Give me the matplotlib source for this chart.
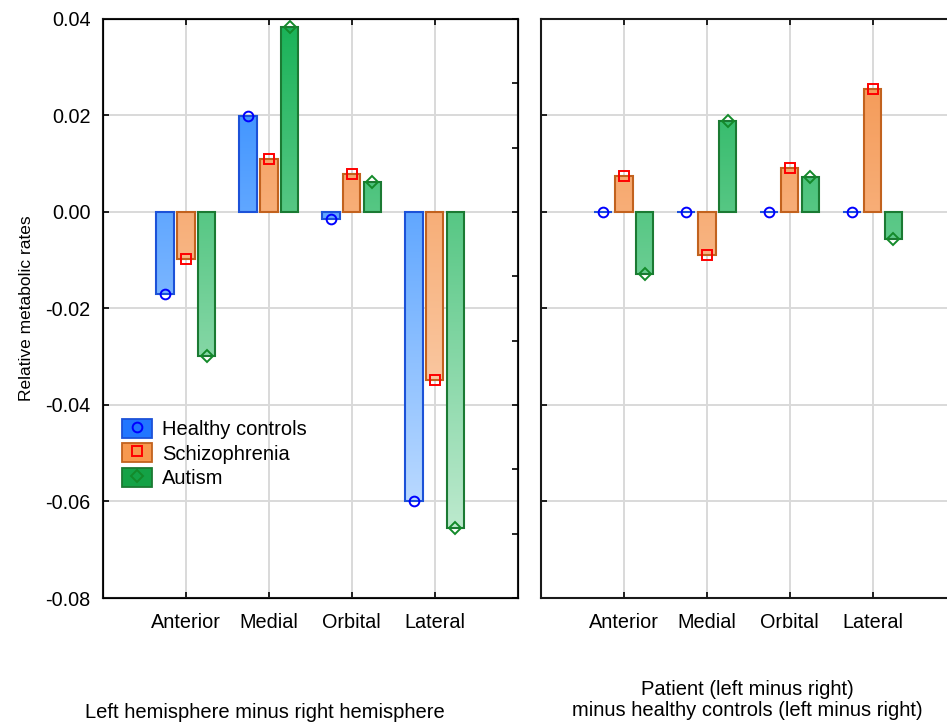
import numpy as np
import matplotlib.pyplot as plt
from matplotlib.colors import LinearSegmentedColormap
from matplotlib.patches import Patch
from matplotlib.lines import Line2D

plt.rcParams['font.family'] = ['Liberation Sans', 'DejaVu Sans']

regions = ['Anterior', 'Medial', 'Orbital', 'Lateral']
groups = ['Healthy controls', 'Schizophrenia', 'Autism']

# left minus right hemisphere
lr_healthy = [-0.017, 0.020, -0.0015, -0.060]
lr_schizo = [-0.0098, 0.011, 0.0078, -0.0349]
lr_autism = [-0.0299, 0.0384, 0.0062, -0.0655]

# patient (L-R) minus healthy (L-R)
diff_healthy = [0.0, 0.0, 0.0, 0.0]
diff_schizo = [0.0075, -0.0089, 0.0092, 0.0254]
diff_autism = [-0.0129, 0.0188, 0.0073, -0.0056]

# (top colour, bottom colour, edge, legend face, marker, marker colour)
styles = [
    ('#2686ff', '#d6e9ff', '#1c52d8', '#2176ff', 'o', '#0000ff'),
    ('#f4924a', '#fee6d3', '#c2621e', '#f7994f', 's', '#ff0000'),
    ('#18b257', '#d3f1de', '#1b7a33', '#14a246', 'D', '#138a2a'),
]

YMIN, YMAX = -0.08, 0.04
W, H = 947, 727
fig = plt.figure(figsize=(W / 100, H / 100), dpi=100)
ax1 = fig.add_axes([103 / W, 1 - 598 / H, 414.5 / W, 579 / H])
ax2 = fig.add_axes([541 / W, 1 - 598 / H, 414.5 / W, 579 / H])

x = np.arange(1, len(regions) + 1)
offsets = [-0.25, 0.0, 0.25]
width = 0.21
grad = np.linspace(0, 1, 256).reshape(-1, 1)


def draw_panel(ax, series):
    for vals, off, st in zip(series, offsets, styles):
        top, bot, edge, _, mk, mc = st
        cmap = LinearSegmentedColormap.from_list('g', [bot, top])
        bars = ax.bar(x + off, vals, width, facecolor='none', edgecolor=edge,
                      linewidth=1.5, zorder=3)
        for b in bars:
            im = ax.imshow(grad, extent=[0, 5, YMIN, YMAX], origin='lower',
                           aspect='auto', cmap=cmap, zorder=2.5,
                           interpolation='bilinear')
            im.set_clip_path(b)
        ms = 6 if mk == 'D' else 7
        ax.plot(x + off, vals, ls='none', marker=mk, ms=ms, mfc='none',
                mec=mc, mew=1.4, zorder=4, clip_on=False)
    ax.set_xlim(0, 5)
    ax.set_ylim(YMIN, YMAX)
    ax.set_xticks(x)
    ax.set_xticklabels(regions)
    ax.set_yticks(np.arange(-0.08, 0.041, 0.02))
    ax.grid(True, color='#d9d9d9', linewidth=1.4, zorder=0)
    ax.set_axisbelow(True)
    ax.tick_params(direction='in', length=4, width=1.2, labelsize=14.3,
                   top=True, pad=9)
    ax.tick_params(axis='x', pad=11)
    for s in ax.spines.values():
        s.set_linewidth(1.5)
        s.set_color('#1a1a1a')


draw_panel(ax1, [lr_healthy, lr_schizo, lr_autism])
draw_panel(ax2, [diff_healthy, diff_schizo, diff_autism])

ax1.set_yticklabels([f'{v:.2f}' for v in np.arange(-0.08, 0.041, 0.02)])
ax1.set_ylabel('Relative metabolic rates', fontsize=12.5, labelpad=8)
ax2.tick_params(axis='y', labelleft=False)

# extra ticks on the right spine of the left panel
ax1r = ax1.twinx()
ax1r.set_ylim(YMIN, YMAX)
ax1r.set_yticks(np.linspace(YMIN, YMAX, 10))
ax1r.tick_params(direction='in', length=4, width=1.2, labelright=False)

handles = []
for st in styles:
    _, _, edge, face, mk, mc = st
    handles.append((Patch(facecolor=face, edgecolor=edge, linewidth=1.3),
                    Line2D([], [], ls='none', marker=mk, ms=6 if mk == 'D' else 7,
                           mfc='none', mec=mc, mew=1.4)))
ax1.legend(handles, groups, loc='upper left', bbox_to_anchor=(0.045, 0.31),
           frameon=False, fontsize=14.5, handlelength=1.5, handleheight=1.1,
           handletextpad=0.5, labelspacing=0.2, borderpad=0, borderaxespad=0)

fig.text(265 / W, 1 - 712 / H, 'Left hemisphere minus right hemisphere',
         ha='center', va='center', fontsize=14.5)
fig.text(747 / W, 1 - 700 / H,
         'Patient (left minus right)\nminus healthy controls (left minus right)',
         ha='center', va='center', fontsize=14.5, linespacing=1.15)

fig.savefig('out.png', dpi=100)
